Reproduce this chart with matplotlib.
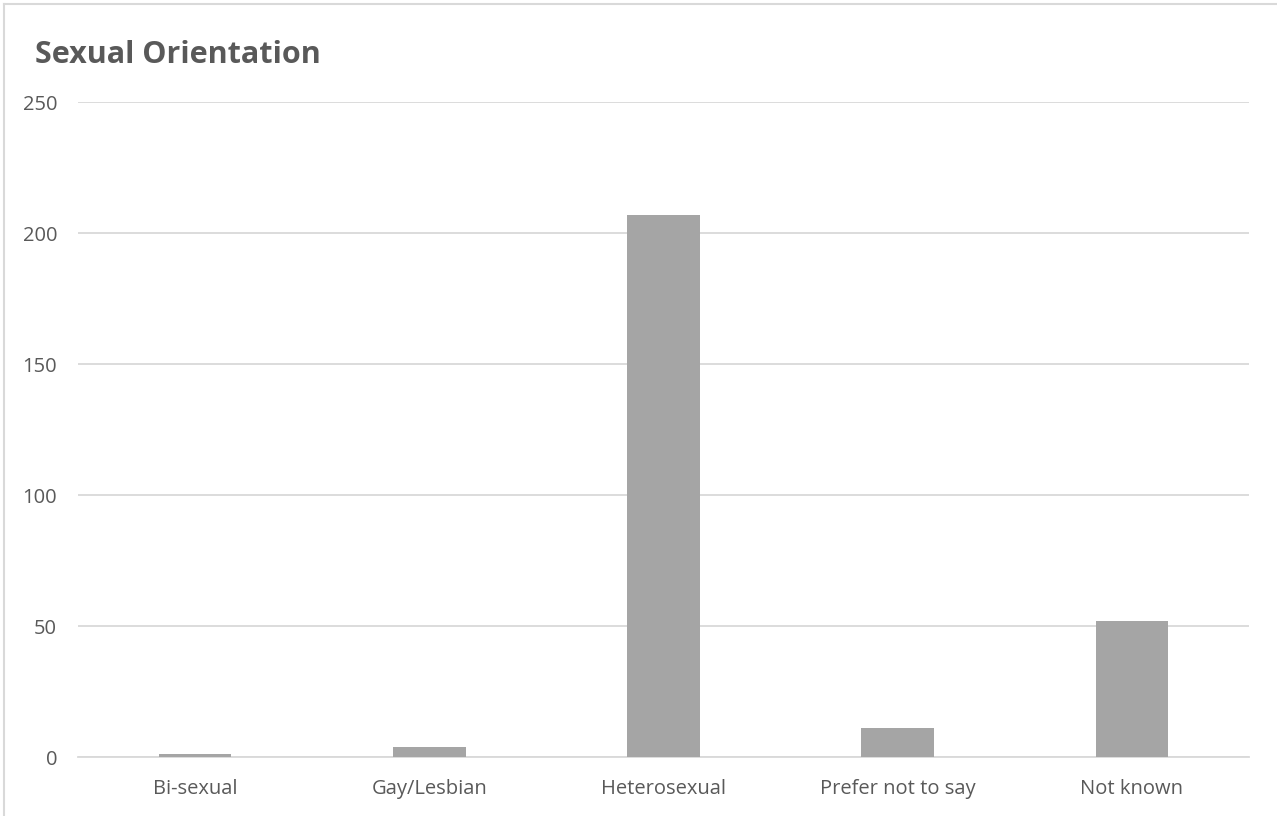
import matplotlib.pyplot as plt
from matplotlib.lines import Line2D

categories = ["Bi-sexual", "Gay/Lesbian", "Heterosexual", "Prefer not to say", "Not known"]
counts = [1, 4, 207, 11, 52]
y_ticks = [0, 50, 100, 150, 200, 250]

plt.rcParams["font.family"] = ["Open Sans", "DejaVu Sans"]
text_color = "#595959"
grid_color = "#D9D9D9"
bar_color = "#A5A5A5"

fig = plt.figure(figsize=(12.77, 8.16), dpi=100)
ax = fig.add_axes([0.0611, 0.0723, 0.917, 0.8027])

x = range(len(categories))
ax.bar(x, counts, width=0.31, color=bar_color, zorder=3)

ax.set_xlim(-0.5, len(categories) - 0.5)
ax.set_ylim(0, 250)
ax.set_yticks(y_ticks)
ax.set_xticks(list(x))
ax.set_xticklabels(categories)

ax.yaxis.grid(True, color=grid_color, linewidth=1.3, zorder=0)
ax.set_axisbelow(True)
for side in ["top", "right", "left"]:
    ax.spines[side].set_visible(False)
ax.spines["bottom"].set_color(grid_color)
ax.spines["bottom"].set_linewidth(1.3)
ax.tick_params(axis="both", length=0, labelsize=14.5, labelcolor=text_color)
ax.tick_params(axis="y", pad=15)
ax.tick_params(axis="x", pad=16)

fig.text(0.0274, 0.932, "Sexual Orientation", fontsize=22, fontweight="bold",
         color=text_color, va="center", ha="left")

# frame edges along the top and left of the chart
fig.add_artist(Line2D([0.003, 1.0], [0.995, 0.995], transform=fig.transFigure,
                      color="#D9D9D9", linewidth=1.5))
fig.add_artist(Line2D([0.003, 0.003], [0.0, 0.995], transform=fig.transFigure,
                      color="#D9D9D9", linewidth=1.5))

fig.savefig("out.png", dpi=100, facecolor="white")
